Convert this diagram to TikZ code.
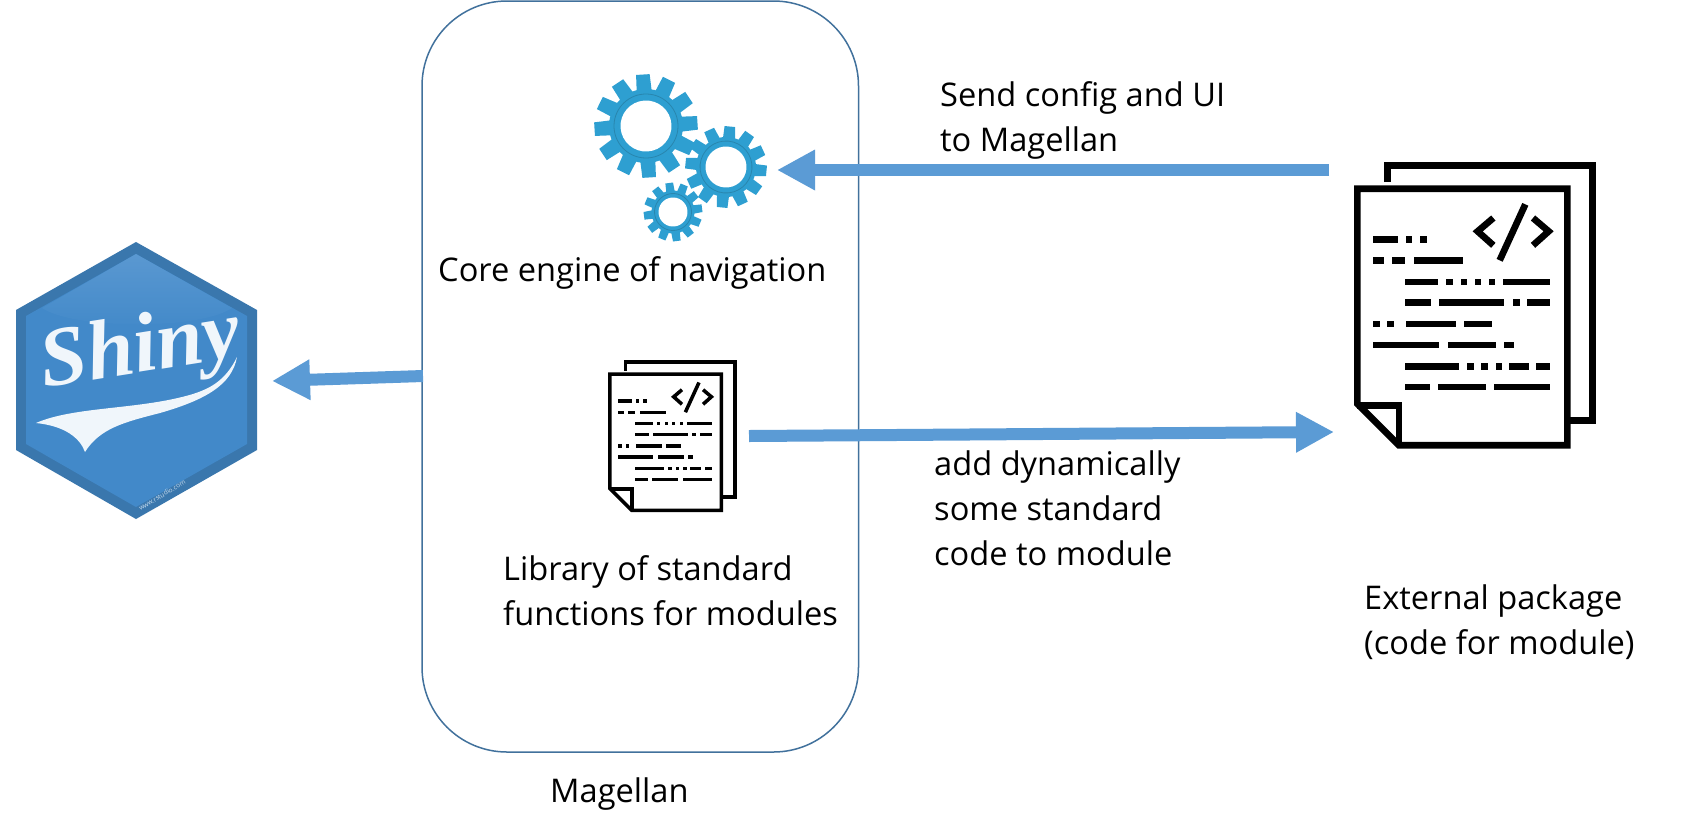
\documentclass[tikz,border=0pt]{standalone}
\usepackage{fontspec}
\setmainfont{Open Sans}
\newfontfamily\shinyfont{Liberation Serif}
\usetikzlibrary{arrows.meta}
\definecolor{arrowblue}{HTML}{5B9BD5}
\definecolor{boxline}{HTML}{41719C}
\definecolor{hexfill}{HTML}{4289C9}
\definecolor{hexedge}{HTML}{3A77AD}
\definecolor{hexlight}{HTML}{5A98D1}
\definecolor{gearblue}{HTML}{2E9FD1}
\definecolor{gearring}{HTML}{2886AE}
\tikzset{
  flow/.style={draw=arrowblue,line width=12pt,-{Triangle[length=38pt,width=38pt]}},
  label/.style={font=\fontsize{32.6}{45}\selectfont,align=left,anchor=west,inner sep=0pt,text=black},
  docline/.style={draw=black,line cap=butt,line join=miter}
}
% #1,#2 = origin in px, #3 = scale
\newcommand{\docicon}[3]{%
 \begin{scope}[shift={(#1,#2)},x=#3pt,y=-#3pt]
  \pgfmathsetmacro{\lw}{20*#3}
  \begin{scope}[docline,line width=\lw pt]
   \fill[white] (100,10) rectangle (716,775);
   \draw (100,60) -- (100,10) -- (716,10) -- (716,775) -- (640,775);
   \fill[white] (10,80) -- (640,80) -- (640,850) -- (135,850) -- (10,725) -- cycle;
   \draw (135,850) -- (10,725) -- (10,80) -- (640,80) -- (640,850) -- cycle;
   \draw (10,730) -- (135,730) -- (135,850);
  \end{scope}
  \foreach \r/\segs in {
    233/{58/133,156/175,199/218},
    296/{58/91,115/153,179/328},
    360/{153/253,277/296,320/339,362/381,405/424,446/588},
    422/{153/230,254/450,477/497,520/588},
    486/{58/77,100/119,156/306,330/413},
    549/{58/255,282/427,450/481},
    613/{153/316,340/359,382/401,425/444,466/524,547/588},
    675/{153/227,251/397,421/588}}{
   \foreach \a/\b in \segs {
    \fill[black] (\a,\r-10) rectangle (\b,\r+10);
   }
  }
  \begin{scope}[docline,line width=\lw pt,line cap=butt]
   \draw (418,168) -- (371,208) -- (418,250);
   \draw (537,168) -- (584,208) -- (537,250);
   \draw (514,127) -- (437,295);
  \end{scope}
 \end{scope}}
% x, y, outer, root, hole, ring, rot
\newcommand{\gearicon}[7]{%
 \begin{scope}[shift={(#1,#2)},rotate=#7]
  \fill[gearblue] (0,0) circle (#4);
  \foreach \t in {0,30,...,330} {
   \fill[gearblue,rotate=\t] (-11:#4-1) -- (-7:#3) -- (8:#3) -- (13:#4-1) -- cycle;
  }
  \draw[gearring,line width=0.8pt] (0,0) circle (#6);
  \fill[white] (0,0) circle (#5);
 \end{scope}}
\begin{document}
\begin{tikzpicture}[x=1pt,y=-1pt]
\useasboundingbox (0,0) rectangle (1691,836);
\fill[white] (0,0) rectangle (1691,836);

% Shiny hex
\fill[hexedge] (136,242) -- (257,310) -- (257,450) -- (136,519) -- (16,450) -- (16,310) -- cycle;
\fill[hexfill] (136,254) -- (247,316) -- (247,444) -- (136,507) -- (26,444) -- (26,316) -- cycle;
\shade[top color=hexlight,bottom color=hexfill] (136,254) -- (232,308) .. controls (200,330) and (75,330) .. (42,308) -- cycle;
\node[text=white!92!hexfill,inner sep=0pt,rotate=9,font=\shinyfont\bfseries\itshape\fontsize{84}{84}\selectfont] (shiny) at (141,352) {Shiny};
\fill[white!92!hexfill] (36,423) .. controls (75,406) and (140,410) .. (193,394) .. controls (208,389) and (225,382) .. (237,357) .. controls (232,385) and (205,400) .. (160,413) .. controls (125,422) and (100,428) .. (85,452) .. controls (80,438) and (65,426) .. (36,423) -- cycle;
\node[text=white!70!hexfill,inner sep=0pt,rotate=31,font=\fontsize{6.5}{7}\selectfont] (rstudio) at (162,495) {www.rstudio.com};

% Magellan box
\draw[boxline,line width=1.5pt,rounded corners=85pt] (422,1) rectangle (858.5,752);
\coordinate (boxleft) at (423,376);
\coordinate (shinyedge) at (272,381);

% Gears
\gearicon{646}{126}{52}{37}{25.5}{32}{4}
\gearicon{726}{167}{41}{30}{20.5}{26}{-5}
\gearicon{673}{212}{29.5}{21.5}{14.5}{18.5}{8}

% Docs
\docicon{1354}{162}{0.3333}
\docicon{608}{360}{0.177}

% Arrows
\coordinate (extin) at (1329,170);
\coordinate (gearin) at (777,170);
\coordinate (libout) at (749,436);
\coordinate (extout) at (1334,432);
\draw[flow] (extin) -- (gearin);
\draw[flow] (libout) -- (extout);
\draw[flow] (boxleft) -- (shinyedge);

% Text
\node[label] (t1) at (940,120) {Send config and UI\\to Magellan};
\node[label] (t2) at (438,273) {Core engine of navigation};
\node[label] (t3) at (503,591) {Library of standard\\functions for modules};
\node[label] (t4) at (934,508) {add dynamically\\some standard\\code to module};
\node[label] (t5) at (1364,622) {External package\\(code for module)};
\node[label] (t6) at (550,794) {Magellan};
\end{tikzpicture}
\end{document}
